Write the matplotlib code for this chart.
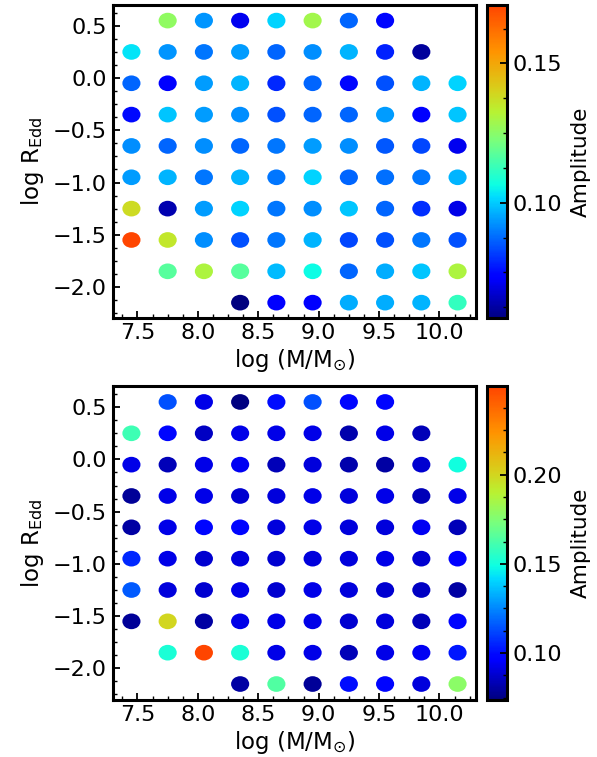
import numpy as np
import matplotlib
matplotlib.use('Agg')
import matplotlib.pyplot as plt
from matplotlib.collections import EllipseCollection
from matplotlib.colors import LinearSegmentedColormap, Normalize
from matplotlib.ticker import AutoMinorLocator, MultipleLocator

plt.rcParams['mathtext.default'] = 'regular'

# -----------------------------------------------------------------------------

log_mass = [7.45, 7.75, 8.05, 8.35, 8.65, 8.95, 9.25, 9.55, 9.85, 10.15]
log_redd = [0.55, 0.25, -0.05, -0.35, -0.65, -0.95, -1.25, -1.55, -1.85, -2.15]

nan = np.nan

# rows follow log_redd, columns follow log_mass
amp_top = [
    [nan, .126, .093, .071, .101, .129, .087, .074, nan, nan],
    [.103, .093, .089, .094, .087, .092, .097, .078, .062, nan],
    [.087, .073, .094, .097, .079, .087, .074, .084, .097, .101],
    [.075, .099, .094, .092, .084, .087, .087, .094, .073, .099],
    [.092, .087, .092, .087, .089, .094, .092, .085, .083, .071],
    [.094, .097, .089, .097, .089, .101, .087, .088, .089, .097],
    [.138, .064, .094, .101, .089, .092, .099, .087, .080, .070],
    [.171, .135, .092, .084, .089, .097, .083, .084, .089, .084],
    [nan, .117, .131, .117, .098, .106, .087, .096, .099, .131],
    [nan, nan, nan, .0585, .073, .073, .096, .096, .097, .112],
]

amp_bottom = [
    [nan, .114, .092, .0738, .100, .114, .098, .098, nan, nan],
    [.160, .098, .086, .092, .092, .092, .082, .092, .084, nan],
    [.092, .084, .092, .094, .084, .090, .082, .080, .088, .150],
    [.078, .092, .092, .088, .090, .092, .090, .092, .084, .092],
    [.080, .092, .098, .098, .090, .092, .090, .090, .094, .084],
    [.106, .092, .088, .090, .088, .090, .090, .092, .088, .096],
    [.116, .090, .088, .092, .088, .092, .090, .088, .086, .080],
    [.078, .200, .080, .092, .092, .092, .088, .090, .084, .098],
    [nan, .152, .2496, .152, .092, .092, .084, .092, .094, .102],
    [nan, nan, nan, .080, .164, .078, .100, .098, .090, .178],
]

cbar_ticks_top = [0.10, 0.15]
cbar_ticks_bottom = [0.10, 0.15, 0.20]

# -----------------------------------------------------------------------------

# jet-like map that stops at orange-red, yellow a bit olive
cmap = LinearSegmentedColormap.from_list('jetish', [
    (0.000, (0.00, 0.00, 0.50)),
    (0.125, (0.00, 0.00, 1.00)),
    (0.142, (0.00, 0.02, 1.00)),
    (0.386, (0.00, 0.86, 1.00)),
    (0.426, (0.05, 1.00, 0.89)),
    (0.568, (0.48, 1.00, 0.48)),
    (0.659, (0.72, 0.95, 0.20)),
    (0.727, (0.84, 0.82, 0.11)),
    (0.852, (1.00, 0.58, 0.00)),
    (1.000, (1.00, 0.27, 0.00)),
])

fig = plt.figure(figsize=(5.97, 7.57), dpi=100)

panels = [
    (amp_top, cbar_ticks_top, 0.5795),
    (amp_bottom, cbar_ticks_bottom, 0.0757),
]

for amp, cticks, y0 in panels:
    ax = fig.add_axes([0.1898, y0, 0.607, 0.414])
    cax = fig.add_axes([0.8162, y0, 0.0335, 0.414])

    X, Y = np.meshgrid(log_mass, log_redd)
    A = np.array(amp)
    ok = ~np.isnan(A)
    offsets = np.column_stack([X[ok], Y[ok]])
    vals = A[ok]

    norm = Normalize(vmin=vals.min(), vmax=vals.max())
    ec = EllipseCollection(widths=0.15, heights=0.15, angles=0, units='xy',
                           offsets=offsets, offset_transform=ax.transData,
                           cmap=cmap, norm=norm, edgecolors='none')
    ec.set_array(vals)
    ax.add_collection(ec)

    ax.set_xlim(7.3, 10.3)
    ax.set_ylim(-2.3, 0.7)
    ax.xaxis.set_major_locator(MultipleLocator(0.5))
    ax.yaxis.set_major_locator(MultipleLocator(0.5))
    ax.xaxis.set_minor_locator(AutoMinorLocator(4))
    ax.yaxis.set_minor_locator(AutoMinorLocator(4))
    ax.tick_params(which='both', direction='in', labelsize=16)
    ax.tick_params(axis='x', pad=3.5)
    ax.tick_params(axis='y', pad=4.5)
    ax.tick_params(which='major', length=5, width=1.3)
    ax.tick_params(which='minor', length=3, width=1.0)
    for sp in ax.spines.values():
        sp.set_linewidth(2.2)

    ax.set_xlabel(r'$\log\,(M/M_{\odot})$', fontsize=16.5, labelpad=3)
    ax.set_ylabel(r'$\log\,R_{Edd}$', fontsize=16.5, labelpad=5)

    cb = fig.colorbar(ec, cax=cax)
    cb.set_ticks(cticks)
    cb.ax.yaxis.set_minor_locator(AutoMinorLocator(4))
    cb.ax.tick_params(which='both', direction='in', labelsize=16, pad=4)
    cb.ax.tick_params(which='major', length=5, width=1.3)
    cb.ax.tick_params(which='minor', length=3, width=1.0)
    cb.outline.set_linewidth(2.2)
    cb.set_label('Amplitude', fontsize=15.5, labelpad=6)

fig.savefig('out.png', dpi=100)
